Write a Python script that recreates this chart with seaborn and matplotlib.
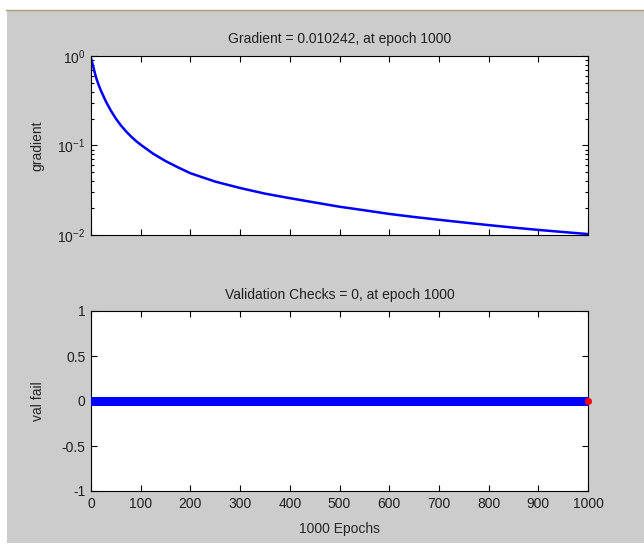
import matplotlib
matplotlib.use("Agg")
import matplotlib.pyplot as plt
from matplotlib.ticker import FuncFormatter, LogLocator
from matplotlib.patches import Rectangle
from matplotlib.lines import Line2D
import seaborn as sns

# gradient curve (epoch -> gradient)
grad_epochs = [0, 5, 10, 15, 20, 30, 40, 50, 60, 70, 80, 90, 100, 125, 150, 175, 200,
               250, 300, 350, 400, 450, 500, 550, 600, 650, 700, 750, 800, 850, 900,
               950, 1000]
grad_values = [0.95, 0.74, 0.58, 0.48, 0.41, 0.31, 0.245, 0.20, 0.168, 0.145, 0.127,
               0.113, 0.102, 0.081, 0.067, 0.057, 0.049, 0.0395, 0.0335, 0.029,
               0.0258, 0.0231, 0.0207, 0.0189, 0.0172, 0.0159, 0.0148, 0.0138,
               0.0129, 0.0121, 0.0114, 0.0108, 0.010242]

# validation checks: 0 at every epoch
val_epochs = list(range(0, 1001))
val_fail = [0] * len(val_epochs)
best_epoch = [1000]
best_fail = [0]

xticks = list(range(0, 1001, 100))
yticks_val = [-1, -0.5, 0, 0.5, 1]

sns.set_style("ticks")
plt.rcParams['font.family'] = ['Liberation Sans', 'DejaVu Sans']
plt.rcParams['font.size'] = 10
plt.rcParams['text.color'] = '#202020'
plt.rcParams['xtick.color'] = 'black'
plt.rcParams['ytick.color'] = 'black'
plt.rcParams['xtick.labelcolor'] = '#202020'
plt.rcParams['ytick.labelcolor'] = '#202020'

fig = plt.figure(figsize=(6.44, 5.47), dpi=100)
fig.patch.set_facecolor('white')

# gray window background
fig.patches.append(Rectangle((7 / 644, 4 / 547), 637 / 644, 533 / 547,
                             transform=fig.transFigure, facecolor='#cccccc',
                             edgecolor='none', zorder=-10))
fig.lines.append(Line2D([6 / 644, 1], [537 / 547, 537 / 547], transform=fig.transFigure,
                        color='#b09a80', lw=1.0))

ax1 = fig.add_axes([91 / 644, 1 - 235 / 547, 497 / 644, 179 / 547])
ax2 = fig.add_axes([91 / 644, 1 - 491 / 547, 497 / 644, 180 / 547])

# --- gradient ---
sns.lineplot(x=grad_epochs, y=grad_values, ax=ax1, color='#0000ff', lw=1.8)
ax1.set_yscale('log')
ax1.set_ylim(1e-2, 1e0)
ax1.set_xlim(0, 1000)
ax1.set_xticks(xticks)
ax1.set_xticklabels([])
ax1.yaxis.set_major_locator(LogLocator(base=10, numticks=5))
ax1.yaxis.set_minor_locator(LogLocator(base=10, subs=range(2, 10), numticks=20))
ax1.set_title('Gradient = 0.010242, at epoch 1000', fontsize=10, pad=9)
ax1.set_ylabel('gradient', fontsize=10)
ax1.yaxis.set_label_coords(-0.093, 0.5)

# --- validation checks ---
sns.scatterplot(x=val_epochs, y=val_fail, ax=ax2, color='#0000ff',
                edgecolor='#0000ff', s=34, linewidth=0.5, zorder=3)
sns.scatterplot(x=best_epoch, y=best_fail, ax=ax2, color='#ff0000',
                edgecolor='#ff0000', s=22, zorder=4, clip_on=False)
ax2.set_xlim(0, 1000)
ax2.set_ylim(-1, 1)
ax2.set_xticks(xticks)
ax2.set_yticks(yticks_val)
ax2.yaxis.set_major_formatter(FuncFormatter(lambda v, p: '%g' % v))
ax2.set_title('Validation Checks = 0, at epoch 1000', fontsize=10, pad=9)
ax2.set_ylabel('val fail', fontsize=10)
ax2.yaxis.set_label_coords(-0.093, 0.5)
ax2.set_xlabel('1000 Epochs', fontsize=10)
ax2.xaxis.set_label_coords(0.5, -0.175)

for ax in (ax1, ax2):
    ax.set_facecolor('white')
    for s in ax.spines.values():
        s.set_visible(True)
        s.set_color('black')
        s.set_linewidth(0.8)
    ax.tick_params(which='both', direction='in', top=True, right=True,
                   labelsize=10, width=0.8)
    ax.tick_params(which='major', length=4, pad=4)
    ax.tick_params(which='minor', length=2.5)
    ax.grid(False)

fig.savefig('out.png', dpi=100)
